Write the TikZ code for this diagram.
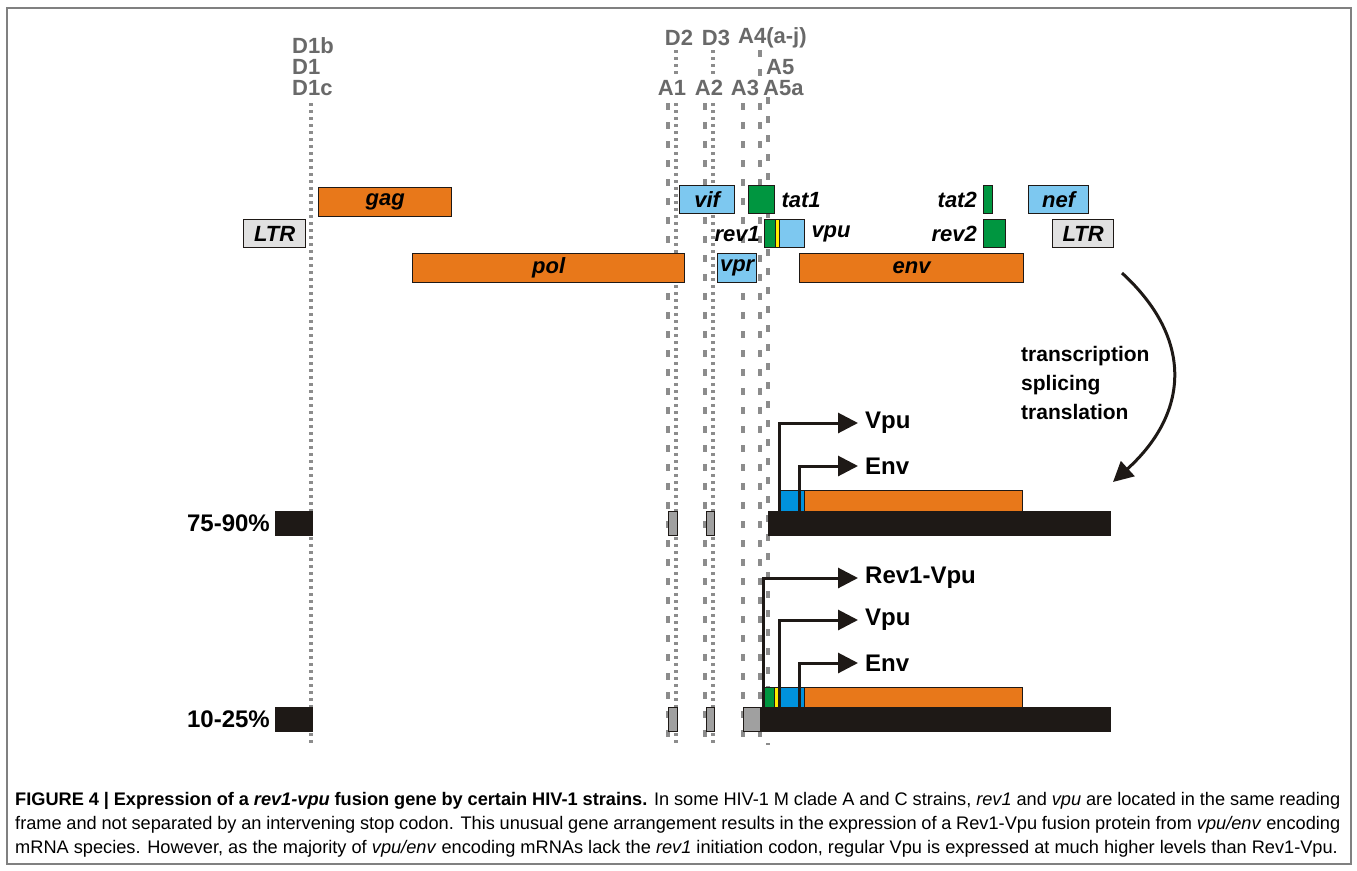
\documentclass[tikz,border=0pt]{standalone}
\usepackage{fontspec}
\setmainfont{Liberation Sans}
\usetikzlibrary{arrows.meta,positioning}
\definecolor{geneOrange}{RGB}{232,120,26}
\definecolor{geneBlue}{RGB}{125,200,240}
\definecolor{exonBlue}{RGB}{0,146,221}
\definecolor{geneGreen}{RGB}{0,150,64}
\definecolor{geneYellow}{RGB}{255,237,0}
\definecolor{siteGray}{RGB}{140,140,140}
\definecolor{labelGray}{RGB}{105,105,105}
\definecolor{ltrGray}{RGB}{225,225,225}
\definecolor{boxGray}{RGB}{160,160,160}
\definecolor{barBlack}{RGB}{30,25,22}

\tikzset{
  box/.style={draw=barBlack, line width=1.3pt, inner sep=0pt, anchor=north west},
  thinbox/.style={box, line width=0.8pt},
  gene/.style={box, font=\fontsize{22}{24}\selectfont\bfseries\itshape},
  genetxt/.style={inner sep=0pt, font=\fontsize{22}{24}\selectfont\bfseries\itshape},
  site/.style={inner sep=0pt, text=labelGray, font=\fontsize{22}{24}\selectfont\bfseries},
  donor/.style={siteGray, line width=3.3pt, dash pattern=on 3.3pt off 3.7pt},
  acceptor/.style={siteGray, line width=4pt, dash pattern=on 7pt off 12pt},
  prot/.style={barBlack, line width=3pt, -{Triangle[length=20pt,width=20pt]}},
  protname/.style={anchor=west, inner xsep=7pt, inner ysep=0pt, font=\fontsize{24}{26}\selectfont\bfseries},
  level/.style={anchor=east, inner sep=0pt, font=\fontsize{24}{26}\selectfont\bfseries},
  captxt/.style={anchor=west, inner sep=0pt, font=\fontsize{18.2}{20}\selectfont},
}

\begin{document}
\begin{tikzpicture}[x=1pt, y=-1pt]
  \useasboundingbox (0,0) rectangle (1357,870);
  \draw[gray, line width=1.5pt] (7,8) rectangle (1351,864);

  % splice sites
  \draw[donor] (311,103) -- (311,745);
  \foreach \x in {676,713} {
    \draw[donor] (\x,50) -- (\x,76);
    \draw[donor] (\x,103) -- (\x,745);
  }
  \foreach \x in {668,705,743}
    \draw[acceptor] (\x,103) -- (\x,745);
  \draw[acceptor] (760,50) -- (760,76);
  \draw[acceptor] (760,103) -- (760,745);
  \draw[acceptor] (768,97) -- (768,745);

  \node[site, anchor=west] (D1b) at (292,46) {D1b};
  \node[site, anchor=west] (D1) at (292,67) {D1};
  \node[site, anchor=west] (D1c) at (292,88) {D1c};
  \node[site] (D2) at (679,38) {D2};
  \node[site] (D3) at (716,38) {D3};
  \node[site, anchor=west] (A4) at (738,38) {A4(a-j)};
  \node[site, anchor=west] (A5) at (766,67) {A5};
  \node[site] (A1) at (672,88) {A1};
  \node[site] (A2) at (709,88) {A2};
  \node[site] (A3) at (745,88) {A3};
  \node[site, anchor=west] (A5a) at (763,88) {A5a};

  % genome
  \node[gene, fill=geneOrange, minimum width=133pt, minimum height=29pt] (gag) at (318,187) {gag};
  \node[gene, fill=ltrGray, minimum width=62pt, minimum height=28pt] (ltrL) at (243,219) {LTR};
  \node[gene, fill=geneOrange, minimum width=272pt, minimum height=29pt] (pol) at (412,253) {pol};
  \node[gene, fill=geneBlue, minimum width=55pt, minimum height=28pt] (vif) at (679,185) {vif};
  \node[box, fill=geneGreen, minimum width=26pt, minimum height=28pt] (tat1) at (748,185) {};
  \node[genetxt, right=6pt of tat1] (tat1txt) {tat1};
  \node[box, fill=geneGreen, minimum width=11pt, minimum height=28pt] (rev1) at (764,219) {};
  \node[box, fill=geneYellow, minimum width=4pt, minimum height=28pt] (rev1y) at (775,219) {};
  \node[box, fill=geneBlue, minimum width=25pt, minimum height=28pt] (vpu) at (779,219) {};
  \node[genetxt, left=4pt of rev1] (rev1txt) {rev1};
  \node[genetxt, right=6pt of vpu] (vputxt) {vpu};
  \node[gene, fill=geneBlue, minimum width=39pt, minimum height=29pt] (vpr) at (717,253) {vpr};
  \node[gene, fill=geneOrange, minimum width=224pt, minimum height=29pt] (env) at (799,253) {env};
  \node[box, fill=geneGreen, minimum width=9pt, minimum height=28pt] (tat2) at (983,185) {};
  \node[genetxt, left=6pt of tat2] (tat2txt) {tat2};
  \node[box, fill=geneGreen, minimum width=22pt, minimum height=28pt] (rev2) at (983,219) {};
  \node[genetxt, left=6pt of rev2] (rev2txt) {rev2};
  \node[gene, fill=geneBlue, minimum width=60pt, minimum height=28pt] (nef) at (1028,185) {nef};
  \node[gene, fill=ltrGray, minimum width=61pt, minimum height=28pt] (ltrR) at (1052,219) {LTR};

  % curved arrow
  \coordinate (curveS) at (1122,273);
  \coordinate (curveE) at (1113,482);
  \draw[prot] (curveS) .. controls (1195,340) and (1188,414) .. (curveE);
  \node[anchor=west, align=left, inner sep=0pt, font=\fontsize{21}{29}\selectfont\bfseries]
    (steps) at (1021,383) {transcription\\splicing\\translation};

  % mRNA 75-90%
  \node[box, fill=barBlack, minimum width=37pt, minimum height=24pt] (m1e1) at (275,511) {};
  \node[box, fill=boxGray, minimum width=9pt, minimum height=24pt] (m1e2) at (668,511) {};
  \node[box, fill=boxGray, minimum width=8pt, minimum height=24pt] (m1e3) at (706,511) {};
  \node[box, fill=barBlack, minimum width=342pt, minimum height=24pt] (m1e4) at (768,511) {};
  \node[thinbox, fill=exonBlue, minimum width=20pt, minimum height=21pt] (m1vpu) at (779,490) {};
  \node[thinbox, fill=exonBlue, minimum width=5pt, minimum height=21pt] (m1sep) at (799,490) {};
  \node[thinbox, fill=geneOrange, minimum width=218pt, minimum height=21pt] (m1env) at (804,490) {};
  \node[level] (p75) at (270,523) {75-90\%};

  \coordinate (m1vpuS) at (779,511);
  \coordinate (m1envS) at (799,511);
  \node[protname] (m1vpuT) at (858,423) {Vpu};
  \node[protname] (m1envT) at (858,466) {Env};
  \draw[prot] (m1vpuS) |- (m1vpuT.west);
  \draw[prot] (m1envS) |- (m1envT.west);

  % mRNA 10-25%
  \node[box, fill=barBlack, minimum width=37pt, minimum height=24pt] (m2e1) at (275,707) {};
  \node[box, fill=boxGray, minimum width=9pt, minimum height=24pt] (m2e2) at (668,707) {};
  \node[box, fill=boxGray, minimum width=8pt, minimum height=24pt] (m2e3) at (706,707) {};
  \node[box, fill=boxGray, minimum width=17pt, minimum height=24pt] (m2e4) at (743,707) {};
  \node[box, fill=barBlack, minimum width=350pt, minimum height=24pt] (m2e5) at (760,707) {};
  \node[thinbox, fill=geneGreen, minimum width=10pt, minimum height=20pt] (m2rev) at (764,687) {};
  \node[thinbox, fill=geneYellow, minimum width=4pt, minimum height=20pt] (m2y) at (774,687) {};
  \node[thinbox, fill=exonBlue, minimum width=20pt, minimum height=20pt] (m2vpu) at (779,687) {};
  \node[thinbox, fill=exonBlue, minimum width=5pt, minimum height=20pt] (m2sep) at (799,687) {};
  \node[thinbox, fill=geneOrange, minimum width=218pt, minimum height=20pt] (m2env) at (804,687) {};
  \node[level] (p10) at (270,719) {10-25\%};

  \coordinate (m2revS) at (763,707);
  \coordinate (m2vpuS) at (779,707);
  \coordinate (m2envS) at (799,707);
  \node[protname] (m2revT) at (858,578) {Rev1-Vpu};
  \node[protname] (m2vpuT) at (858,620) {Vpu};
  \node[protname] (m2envT) at (858,663) {Env};
  \draw[prot] (m2revS) |- (m2revT.west);
  \draw[prot] (m2vpuS) |- (m2vpuT.west);
  \draw[prot] (m2envS) |- (m2envT.west);

  % caption
  \node[captxt] (cap1) at (15,801) {\makebox[1325pt][s]{\textbf{FIGURE 4 | Expression of a \textit{rev1-vpu} fusion gene by certain HIV-1 strains.} In some HIV-1 M clade A and C strains, \textit{rev1} and \textit{vpu} are located in the same reading}};
  \node[captxt] (cap2) at (15,825) {\makebox[1325pt][s]{frame and not separated by an intervening stop codon. This unusual gene arrangement results in the expression of a Rev1-Vpu fusion protein from \textit{vpu/env} encoding}};
  \node[captxt] (cap3) at (15,849) {mRNA species. However, as the majority of \textit{vpu/env} encoding mRNAs lack the \textit{rev1} initiation codon, regular Vpu is expressed at much higher levels than Rev1-Vpu.};
\end{tikzpicture}
\end{document}
